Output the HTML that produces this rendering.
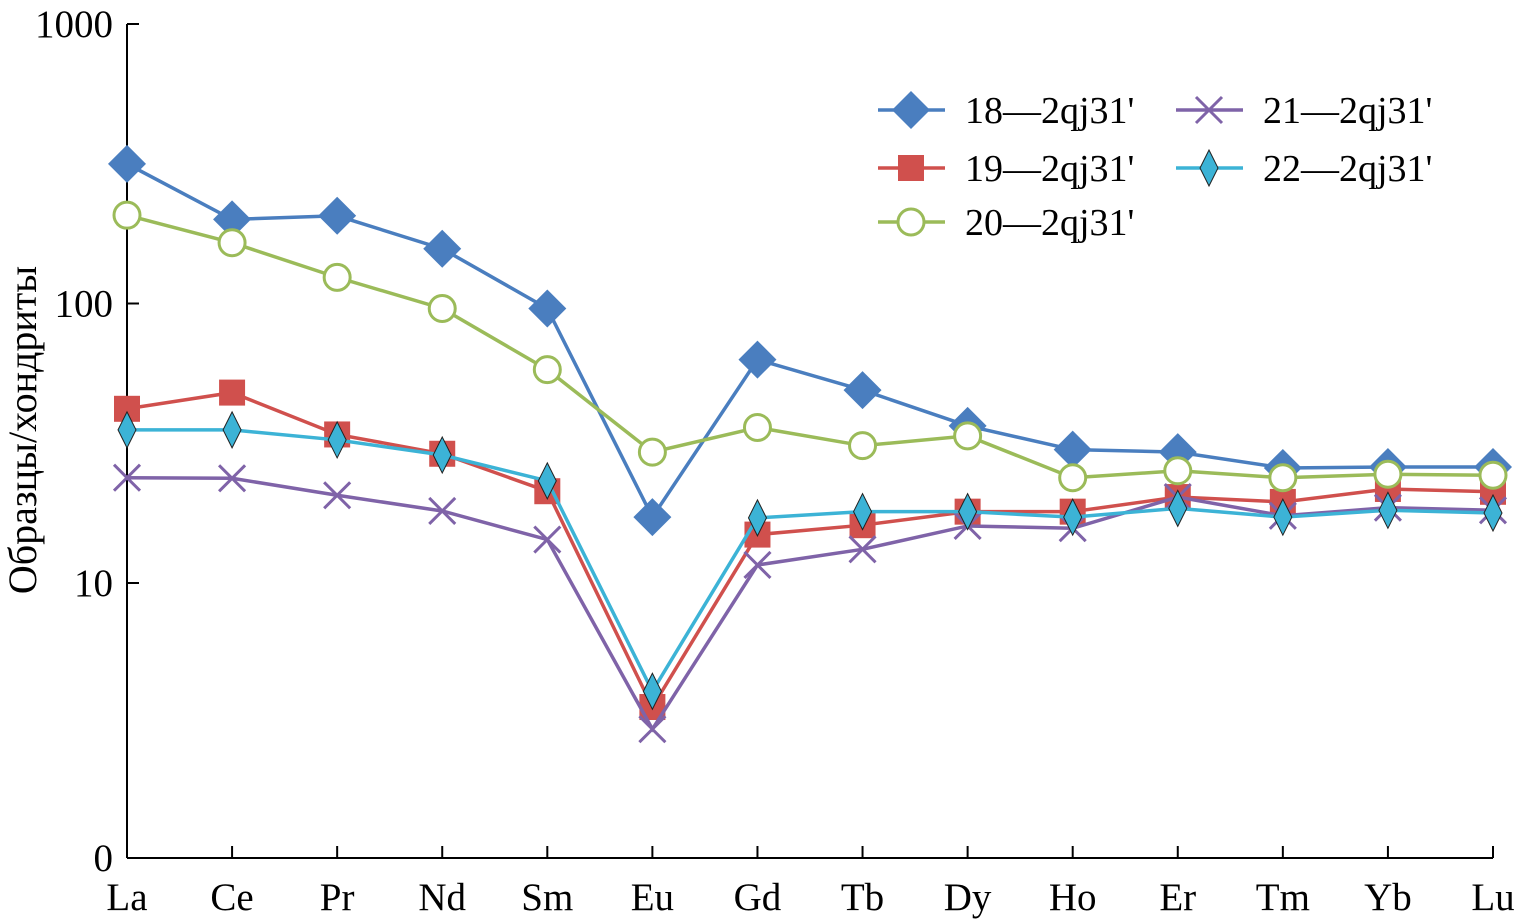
<!DOCTYPE html>
<html><head><meta charset="utf-8"><style>
html,body{margin:0;padding:0;background:#fff;}
svg{display:block;font-family:"Liberation Serif",serif;}
</style></head><body>
<svg id="chart" width="1527" height="923" viewBox="0 0 1527 923" xmlns="http://www.w3.org/2000/svg">
<g id="axes"></g>
<g id="series"></g>
<g id="legend"></g>
<text transform="translate(36,430) rotate(-90)" text-anchor="middle" font-size="40">Образцы/хондриты</text>
</svg>
<script>
const categories=["La","Ce","Pr","Nd","Sm","Eu","Gd","Tb","Dy","Ho","Er","Tm","Yb","Lu"];
const s18=[316,200,206,157,96,17.2,63,49,36.5,30,29.4,25.8,26,26];
const s19=[42,48,34,29,21.3,3.6,14.9,16.1,18,18,20.3,19.5,21.7,21.2];
const s20=[207,165,124,96,58,29.4,36,31,33.6,23.8,25.2,23.8,24.5,24.3];
const s21=[23.8,23.7,20.6,18.1,14.3,3.0,11.6,13.2,16,15.7,20.3,17.4,18.6,18.2];
const s22=[35.3,35.3,32.5,28.7,23.2,4.1,17.1,18,18,17.2,18.5,17.2,18.2,17.8];
const yTicks=[1,10,100,1000];
const yTickLabels=["0","10","100","1000"];
const seriesNames=["18—2qj31'","19—2qj31'","20—2qj31'","21—2qj31'","22—2qj31'"];

const NS="http://www.w3.org/2000/svg";
const X0=127,X1=1493,Y1000=24,DEC=279.5,YB=858;
const x=i=>X0+i*(X1-X0)/(categories.length-1);
const y=v=>Math.min(YB,Y1000+(3-Math.log10(v))*DEC);
function mk(tag,attrs,parent){const e=document.createElementNS(NS,tag);for(const k in attrs)e.setAttribute(k,attrs[k]);parent.appendChild(e);return e;}
const axes=document.getElementById('axes');
const a1=mk('line',{x1:X0,y1:Y1000,x2:X0,y2:YB,stroke:'#000','stroke-width':2},axes);


const a2=mk('line',{x1:X0,y1:YB,x2:X1,y2:YB,stroke:'#000','stroke-width':2},axes);


yTicks.forEach((t,i)=>{
  const ty=y(t);
  mk('line',{x1:X0,y1:ty,x2:X0+12,y2:ty,stroke:'#000','stroke-width':2},axes);
  const tx=mk('text',{x:X0-14,y:ty+13,'text-anchor':'end','font-size':39},axes);
  tx.textContent=yTickLabels[i];
  
  
});
categories.forEach((c,i)=>{
  mk('line',{x1:x(i),y1:YB,x2:x(i),y2:YB-12,stroke:'#000','stroke-width':2},axes);
  const tx=mk('text',{x:x(i),y:910,'text-anchor':'middle','font-size':39},axes);
  tx.textContent=c;
  
  
});
const colors=["#4a7ebf","#d0504d","#9bbb59","#7f63a8","#3cb3d6"];
function marker(type,cx,cy,col,g){
  if(type==0)mk('polygon',{points:`${cx},${cy-19} ${cx+19},${cy} ${cx},${cy+19} ${cx-19},${cy}`,fill:col},g);
  else if(type==1)mk('rect',{x:cx-13,y:cy-13,width:26,height:26,fill:col},g);
  else if(type==2)mk('circle',{cx:cx,cy:cy,r:13,fill:'#fff',stroke:col,'stroke-width':3},g);
  else if(type==3){mk('path',{d:`M${cx-13},${cy-13}L${cx+13},${cy+13}M${cx-13},${cy+13}L${cx+13},${cy-13}`,stroke:col,'stroke-width':3},g);}
  else mk('polygon',{points:`${cx},${cy-18} ${cx+9},${cy} ${cx},${cy+18} ${cx-9},${cy}`,fill:col,stroke:'#222','stroke-width':1},g);
}
const sg=document.getElementById('series');
[s18,s19,s20,s21,s22].forEach((data,k)=>{
  const g=mk('g',{},sg);
  
  
  mk('polyline',{points:data.map((v,i)=>x(i)+','+y(v)).join(' '),fill:'none',stroke:colors[k],'stroke-width':3.5},g);
  data.forEach((v,i)=>marker(k,x(i),y(v),colors[k],g));
});
const lg=document.getElementById('legend');
const lpos=[[878,110],[878,168],[878,222],[1176,110],[1176,168]];
seriesNames.forEach((n,k)=>{
  const [lx,ly]=lpos[k];
  const g=mk('g',{},lg);
  
  
  mk('line',{x1:lx,y1:ly,x2:lx+67,y2:ly,stroke:colors[k],'stroke-width':3.5},g);
  marker(k,lx+33,ly,colors[k],g);
  const t=mk('text',{x:lx+87,y:ly+13,'font-size':38},g);
  t.textContent=n;
});
</script>
</body></html>
